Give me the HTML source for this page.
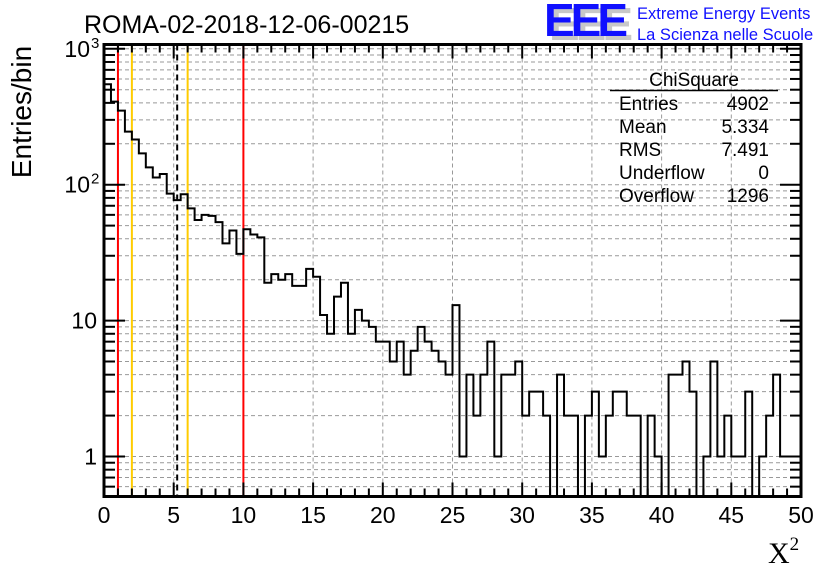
<!DOCTYPE html>
<html><head><meta charset="utf-8"><style>
body{margin:0;background:#fff}
svg{display:block}
text{font-family:"Liberation Sans",sans-serif}
</style></head><body>
<svg id="c" width="836" height="572" viewBox="0 0 836 572" xmlns="http://www.w3.org/2000/svg">
<rect width="836" height="572" fill="#fff"/>
<g id="grid"></g>
<g id="lines"></g>
<g id="hist"></g>
<g id="axes"></g>
<text x="84" y="33" font-size="25">ROMA-02-2018-12-06-00215</text>
<text transform="translate(31,112) rotate(-90)" text-anchor="middle" font-size="28">Entries/bin</text>
<text x="768" y="563" font-size="30" style="font-family:'Liberation Serif',serif">X<tspan font-size="19" dy="-13">2</tspan></text>
<g>
<text x="549" y="40" font-size="46" font-weight="bold" fill="#c8c8c8" textLength="84">EEE</text>
<text x="544" y="36" font-size="46" font-weight="bold" fill="#1010ff" textLength="84">EEE</text>
<text x="637" y="19" font-size="16.5" fill="#1010ff">Extreme Energy Events</text>
<text x="637" y="40" font-size="16.5" fill="#1010ff">La Scienza nelle Scuole</text>
</g>
<g font-size="19">
<text x="694" y="86" text-anchor="middle">ChiSquare</text>
<line x1="610" y1="90.5" x2="778" y2="90.5" stroke="#000" stroke-width="1.5"/>
<text x="619" y="110">Entries</text><text x="769" y="110" text-anchor="end">4902</text>
<text x="619" y="133">Mean</text><text x="769" y="133" text-anchor="end">5.334</text>
<text x="619" y="156">RMS</text><text x="769" y="156" text-anchor="end">7.491</text>
<text x="619" y="179">Underflow</text><text x="769" y="179" text-anchor="end">0</text>
<text x="619" y="202">Overflow</text><text x="769" y="202" text-anchor="end">1296</text>
</g>
</svg>
<script>
const counts=[548,409,351,246,215,170,134,113,120,86,77,85,67,55,60,59,53,37,46,31,47,43,41,19,22,20,22,18,18,24,21,11,8,15,19,8,12,10,9,7,7,5,7,4,6,9,7,6,5,4,13,1,4,2,4,7,1,4,4,5,2,3,3,2,0,4,2,2,0,2,3,1,2,3,3,2,2,0,2,1,0,4,4,5,3,0,1,5,1,2,1,1,3,0,1,2,4,1,1,1];
const binLow=0, binWidth=0.5;
const xTicks=[0,5,10,15,20,25,30,35,40,45,50];
const refRed=[1,10];
const refGold=[2,6];
const refMean=[5.25];
const NS='http://www.w3.org/2000/svg';
const L=104,R=801,T=44.5,B=496.5;
const xs=v=>L+(v-0)/(50-0)*(R-L);
const ys=v=>v<=0?B:Math.max(T,Math.min(B,456.5-Math.log10(v)*135.9));
function mk(tag,attrs,parent){const e=document.createElementNS(NS,tag);for(const k in attrs)e.setAttribute(k,attrs[k]);parent.appendChild(e);return e;}
const grid=document.getElementById('grid'),axes=document.getElementById('axes'),lines=document.getElementById('lines'),hist=document.getElementById('hist');
const yt=[];for(let d=-1;d<=3;d++)for(let m=1;m<=9;m++){const v=m*Math.pow(10,d);if(v>=0.55&&v<=1040)yt.push([v,m===1]);}
yt.forEach(([v,maj])=>{const y=ys(v);
 let g=mk('line',{x1:L,x2:R,y1:y,y2:y,stroke:'#999','stroke-dasharray':'4,3','stroke-width':1},grid);
 
 
 const len=maj?21:11;
 mk('line',{x1:L,x2:L+len,y1:y,y2:y,stroke:'#000','stroke-width':2},axes);
 mk('line',{x1:R,x2:R-len,y1:y,y2:y,stroke:'#000','stroke-width':2},axes);
});
for(let v=5;v<50;v+=5){const x=xs(v);
 let g=mk('line',{x1:x,x2:x,y1:T,y2:B,stroke:'#999','stroke-dasharray':'4,3','stroke-width':1},grid);
 
 }
for(let v=0;v<=50;v+=1){const x=xs(v);const maj=v%5===0;const len=maj?14:8;
 mk('line',{x1:x,x2:x,y1:B,y2:B-len,stroke:'#000','stroke-width':2},axes);
 mk('line',{x1:x,x2:x,y1:T,y2:T+len,stroke:'#000','stroke-width':2},axes);}
mk('rect',{x:L,y:T,width:R-L,height:B-T,fill:'none',stroke:'#000','stroke-width':3},axes);
xTicks.forEach(v=>{const t=mk('text',{x:xs(v),y:523,'text-anchor':'middle','font-size':23},axes);t.textContent=v;
 
 });
[[1,'1'],[10,'10'],[100,'10','2'],[1000,'10','3']].forEach(([v,b,e])=>{
 const t=mk('text',{x:e?90:97,y:ys(v)+8,'text-anchor':'end','font-size':23},axes);t.textContent=b;
 
 
 if(e){const s=mk('text',{x:91,y:ys(v)-1,'font-size':15},axes);s.textContent=e;
  
  }
});
function vline(v,col,dash,name){const l=mk('line',{x1:xs(v),x2:xs(v),y1:T,y2:B,stroke:col,'stroke-width':2},lines);if(dash)l.setAttribute('stroke-dasharray',dash);
 
 }
refRed.forEach(v=>vline(v,'#ff0000',null,'red-limit-line'));
refGold.forEach(v=>vline(v,'#ffcc00',null,'gold-limit-line'));
refMean.forEach(v=>vline(v,'#000',"6,4",'mean-line'));
let d='M'+xs(binLow)+','+ys(counts[0]);
counts.forEach((c,i)=>{const x2=xs(binLow+(i+1)*binWidth);d+=' H'+x2;if(i+1<counts.length)d+=' V'+ys(counts[i+1]);});
const p=mk('path',{d:d,fill:'none',stroke:'#000','stroke-width':2},hist);


</script>
</body></html>
